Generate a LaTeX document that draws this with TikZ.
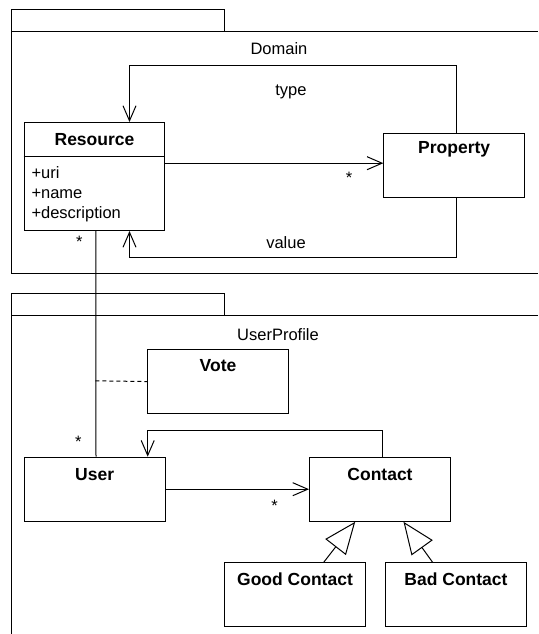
\documentclass[tikz,border=0pt]{standalone}
\usepackage{fontspec}
\setmainfont{Liberation Sans}
\usetikzlibrary{positioning,arrows.meta,calc}

\begin{document}
\begin{tikzpicture}[
    x=1pt, y=-1pt,
    line width=1pt,
    font=\fontsize{16.5pt}{20pt}\selectfont,
    cls/.style={
        draw,
        rectangle,
        anchor=north west,
        inner sep=0pt,
        minimum width=141pt,
        minimum height=63.5pt
    },
    title/.style={anchor=base, inner sep=0pt, font=\fontsize{17.5pt}{21pt}\selectfont\bfseries},
    attr/.style={anchor=base west, inner sep=0pt},
    lbl/.style={anchor=base, inner sep=0pt},
    mult/.style={inner sep=0pt},
    pkg/.style={draw, line width=1pt},
    assoc/.style={-{Straight Barb[length=15pt,width=13pt]}},
    gen/.style={-{Triangle[open,length=32pt,width=26pt]}},
    link/.style={dash pattern=on 4pt off 3pt}
]
\useasboundingbox (0,0) rectangle (538,634);

% ============================================================
% PAKIET: Domain
% ============================================================
\draw[pkg] (11.7,10) rectangle (224.3,31.7);
\draw[pkg] (538,31.7) -- (11.7,31.7) -- (11.7,273.3) -- (538,273.3);
\node[lbl] (domain) at (279,55) {Domain};

\node[cls, minimum width=140.6pt, minimum height=108pt] (res) at (23.7,122) {};
\node[title] (res-t) at ([yshift=-23pt]res.north) {Resource};
\draw ([yshift=-34pt]res.north west) -- ([yshift=-34pt]res.north east);
\node[attr] (uri) at (31,178.3) {+uri};
\node[attr] (name) at (31,198.3) {+name};
\node[attr] (desc) at (31,218.3) {+description};

\node[cls, minimum width=140.7pt, minimum height=63.4pt] (prop) at (383.3,133.3) {};
\node[title] (prop-t) at ([yshift=-20pt]prop.north) {Property};

\draw[assoc] ([yshift=13.3pt]res.east) -- ([yshift=2.3pt]prop.west);
\node[mult] (m1) at (349,178.3) {*};

\draw[assoc] ([xshift=2.6pt]prop.north) -- ++(0,-68) -| ([xshift=35pt]res.north);
\node[lbl] (type) at (291,95) {type};

\draw[assoc] ([xshift=2.6pt]prop.south) -- ++(0,60) -| ([xshift=35pt]res.south);
\node[lbl] (value) at (286,248.3) {value};

% ============================================================
% PAKIET: UserProfile
% ============================================================
\draw[pkg] (11.7,293.3) rectangle (224.3,315);
\draw[pkg] (538,315) -- (11.7,315) -- (11.7,634);
\node[lbl] (userprofile) at (278,340) {UserProfile};

\node[cls] (vote) at (147,349.3) {};
\node[title] (vote-t) at ([yshift=-22.4pt]vote.north) {Vote};

\node[cls, minimum height=64pt] (user) at (23.7,456.7) {};
\node[title] (user-t) at ([yshift=-23.3pt]user.north) {User};

\node[cls] (contact) at (309,457.3) {};
\node[title] (contact-t) at ([yshift=-22.7pt]contact.north) {Contact};

\node[cls] (good) at (224,562.3) {};
\node[title] (good-t) at ([yshift=-22.7pt]good.north) {Good Contact};

\node[cls] (bad) at (385,562.3) {};
\node[title] (bad-t) at ([yshift=-22.7pt]bad.north) {Bad Contact};

% Resource -- User, z klasą asocjacyjną Vote
\draw ([xshift=1.3pt]res.south) -- ([xshift=1.3pt]user.north);
\node[mult] (m2) at (79.3,241.7) {*};
\node[mult] (m3) at (78.3,441.7) {*};
\coordinate (vm) at (95.3,380.8);
\draw[link] (vm) -- (vote.west);

% User -> Contact
\draw[assoc] (user.east) -- (user.east -| contact.west);
\node[mult] (m4) at (274.7,505.7) {*};

\draw[assoc] ([xshift=2.5pt]contact.north) -- ++(0,-27.3) -| ([xshift=53pt]user.north);

% dziedziczenie
\draw[gen] ([xshift=28.7pt]good.north) -- ([xshift=-24.8pt]contact.south);
\draw[gen] ([xshift=-23.4pt]bad.north) -- ([xshift=23.5pt]contact.south);

\end{tikzpicture}
\end{document}
